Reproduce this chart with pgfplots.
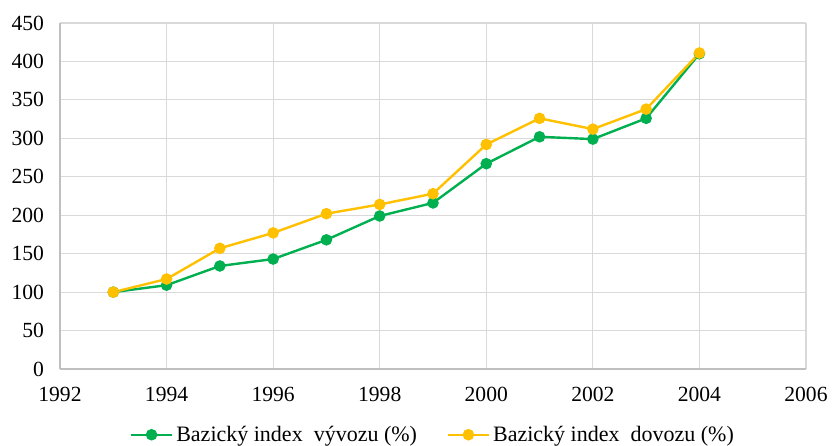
\documentclass[border=0pt]{standalone}
\usepackage{fontspec}
\setmainfont{Liberation Serif}
\usepackage{pgfplots}
\pgfplotsset{compat=1.18}
\definecolor{cgreen}{HTML}{00B050}
\definecolor{cyellow}{HTML}{FFC000}
\definecolor{cgrid}{HTML}{D9D9D9}
\definecolor{caxis}{HTML}{BFBFBF}
\begin{document}
\begin{tikzpicture}
\begin{axis}[
  at={(0,0)}, anchor=south west,
  scale only axis,
  width=559.5pt, height=259.5pt,
  xmin=1992, xmax=2006, ymin=0, ymax=450,
  xtick={1992,1994,...,2006},
  ytick={0,50,...,450},
  xticklabel={\rmfamily\pgfmathprintnumber[assume math mode=true,1000 sep={}]{\tick}},
  yticklabel={\rmfamily\pgfmathprintnumber[assume math mode=true]{\tick}},
  font=\fontsize{16}{19}\selectfont,
  tick label style={font=\rmfamily\fontsize{16.2}{19}\selectfont, text=black},
  major tick length=0pt,
  xticklabel style={yshift=-10pt},
  yticklabel style={xshift=-8.5pt},
  grid=major,
  major grid style={cgrid, line width=0.9pt},
  axis x line*=bottom, axis y line*=left,
  axis line style={caxis, line width=0.9pt, -},
  legend columns=2,
  legend style={draw=none, fill=none, at={(0.5,-0.19)}, anchor=center,
    font=\rmfamily\fontsize{16.5}{19}\selectfont, /tikz/every even column/.append style={column sep=20pt}},
  legend cell align=left,
  legend image code/.code={\draw[mark repeat=2,mark phase=2] plot coordinates {(0cm,0cm)(0.55cm,0cm)(1.1cm,0cm)};},
]
\addplot[cgreen, line width=1.8pt, mark=*, mark size=3.4pt, mark options={fill=cgreen, draw=cgreen}] coordinates {
(1993,100) (1994,109) (1995,134) (1996,143) (1997,168) (1998,199) (1999,216) (2000,267) (2001,302) (2002,299) (2003,326) (2004,410)
};
\addlegendentry{Bazický index\ \ vývozu (\%)}
\addplot[cyellow, line width=1.8pt, mark=*, mark size=3.4pt, mark options={fill=cyellow, draw=cyellow}] coordinates {
(1993,100) (1994,117) (1995,157) (1996,177) (1997,202) (1998,214) (1999,228) (2000,292) (2001,326) (2002,312) (2003,338) (2004,411)
};
\addlegendentry{Bazický index\ \ dovozu (\%)}
\end{axis}
\pgfresetboundingbox
\path[use as bounding box] (-45pt,-57.75pt) rectangle (579.75pt,276.75pt);
\end{tikzpicture}
\end{document}
